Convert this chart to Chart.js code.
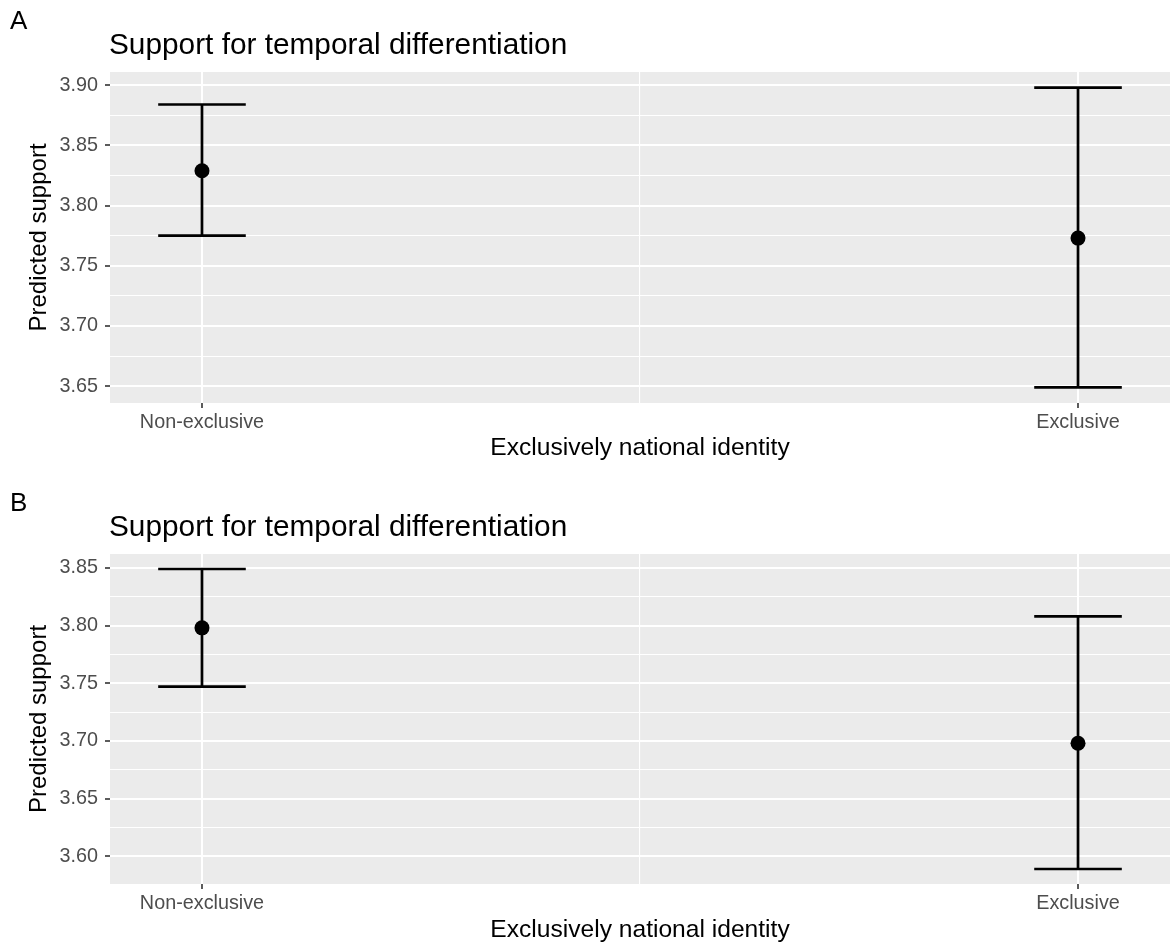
<!DOCTYPE html>
<html>
<head>
<meta charset="utf-8">
<script src="https://cdn.jsdelivr.net/npm/chart.js@4.4.1/dist/chart.umd.min.js"></script>
<style>
  html, body { margin: 0; padding: 0; background: #fff; overflow: hidden; }
  canvas { display: block; }
</style>
</head>
<body>
<canvas id="panelA" width="1172" height="482"></canvas>
<canvas id="panelB" width="1172" height="465"></canvas>
<script>
// --- data ---
const categories = ['Non-exclusive', 'Exclusive'];
const categoryX = [0, 1];

// panel A
const estimateA = [3.829, 3.773];
const lowerA = [3.775, 3.649];
const upperA = [3.884, 3.898];
const yTicksA = [3.65, 3.70, 3.75, 3.80, 3.85, 3.90];
const yRangeA = [3.636, 3.911];

// panel B
const estimateB = [3.798, 3.698];
const lowerB = [3.747, 3.589];
const upperB = [3.849, 3.808];
const yTicksB = [3.60, 3.65, 3.70, 3.75, 3.80, 3.85];
const yRangeB = [3.576, 3.862];

const xRange = [-0.105, 1.105];
const capHalfWidth = 0.05;

const FONT = '"Liberation Sans", Arial, Helvetica, sans-serif';

// fundo cinza e titulos do painel
const panelDecor = {
  id: 'panelDecor',
  beforeDraw(chart) {
    const { ctx, chartArea: a } = chart;
    ctx.save();
    ctx.fillStyle = '#EBEBEB';
    ctx.fillRect(a.left, a.top, a.right - a.left, a.bottom - a.top);
    ctx.restore();
  },
  afterDraw(chart, args, opts) {
    const ctx = chart.ctx;
    ctx.save();
    ctx.fillStyle = '#000';
    ctx.textBaseline = 'alphabetic';
    ctx.textAlign = 'left';
    ctx.font = '26px ' + FONT;
    ctx.fillText(opts.tag, 10, 29);
    ctx.font = '29.8px ' + FONT;
    ctx.fillText(opts.title, chart.chartArea.left - 1, 54);
    ctx.restore();
  }
};

function isOn(list, v) {
  return list.some(t => Math.abs(t - v) < 1e-6);
}

function buildDatasets(est, lo, hi) {
  const line = { showLine: true, borderColor: '#000', borderWidth: 2.7, pointRadius: 0, fill: false };
  const sets = [];
  categoryX.forEach((x, i) => {
    sets.push({ ...line, data: [{ x: x, y: lo[i] }, { x: x, y: hi[i] }] });
    sets.push({ ...line, data: [{ x: x - capHalfWidth, y: hi[i] }, { x: x + capHalfWidth, y: hi[i] }] });
    sets.push({ ...line, data: [{ x: x - capHalfWidth, y: lo[i] }, { x: x + capHalfWidth, y: lo[i] }] });
  });
  sets.push({
    data: categoryX.map((x, i) => ({ x: x, y: est[i] })),
    pointRadius: 7.5, pointBackgroundColor: '#000', pointBorderColor: '#000', borderWidth: 0, showLine: false
  });
  return sets;
}

function makePanel(id, tag, est, lo, hi, yTicks, yRange, axisHeight, titlePad) {
  const step = yTicks[1] - yTicks[0];
  const allY = [];
  for (let v = yTicks[0] - step / 2; v <= yTicks[yTicks.length - 1] + step / 2 + 1e-9; v += step / 2) {
    if (v >= yRange[0] && v <= yRange[1]) allY.push(+v.toFixed(4));
  }
  const xTicks = [categoryX[0], (categoryX[0] + categoryX[1]) / 2, categoryX[1]];

  new Chart(document.getElementById(id), {
    type: 'scatter',
    data: { datasets: buildDatasets(est, lo, hi) },
    plugins: [panelDecor],
    options: {
      responsive: false,
      animation: false,
      events: [],
      layout: { autoPadding: false, padding: { left: 0, right: 2, top: 72, bottom: 0 } },
      plugins: {
        legend: { display: false },
        tooltip: { enabled: false },
        panelDecor: { tag: tag, title: 'Support for temporal differentiation' }
      },
      scales: {
        x: {
          min: xRange[0], max: xRange[1],
          afterBuildTicks: s => { s.ticks = xTicks.map(v => ({ value: v })); },
          afterFit: s => { s.height = axisHeight; s.paddingLeft = 0; s.paddingRight = 0; },
          border: { display: false },
          grid: {
            color: '#fff',
            lineWidth: c => isOn(categoryX, c.tick.value) ? 2 : 1.1,
            tickColor: c => isOn(categoryX, c.tick.value) ? '#333' : 'rgba(0,0,0,0)',
            tickWidth: 1.6,
            tickLength: 5
          },
          ticks: {
            autoSkip: false, maxRotation: 0, padding: 3,
            color: '#4D4D4D', font: { family: FONT, size: 19.8 },
            callback: v => { const i = categoryX.indexOf(v); return i >= 0 ? categories[i] : ''; }
          },
          title: {
            display: true, text: 'Exclusively national identity', color: '#000',
            font: { family: FONT, size: 24.6 }, padding: { top: 0, bottom: titlePad }
          }
        },
        y: {
          min: yRange[0], max: yRange[1],
          afterBuildTicks: s => { s.ticks = allY.map(v => ({ value: v })); },
          afterFit: s => { s.width = 110; s.paddingTop = 0; s.paddingBottom = 0; },
          border: { display: false },
          grid: {
            color: '#fff',
            lineWidth: c => isOn(yTicks, c.tick.value) ? 2 : 1.1,
            tickColor: c => isOn(yTicks, c.tick.value) ? '#333' : 'rgba(0,0,0,0)',
            tickWidth: 1.6,
            tickLength: 5
          },
          ticks: {
            autoSkip: false, padding: 7,
            color: '#4D4D4D', font: { family: FONT, size: 19.8 },
            callback: v => isOn(yTicks, v) ? v.toFixed(2) : ''
          },
          title: {
            display: true, text: 'Predicted support', color: '#000',
            font: { family: FONT, size: 24 }, padding: { top: 25, bottom: 0 }
          }
        }
      }
    }
  });
}

makePanel('panelA', 'A', estimateA, lowerA, upperA, yTicksA, yRangeA, 79, 19);
makePanel('panelB', 'B', estimateB, lowerB, upperB, yTicksB, yRangeB, 63, 2);
</script>
</body>
</html>
